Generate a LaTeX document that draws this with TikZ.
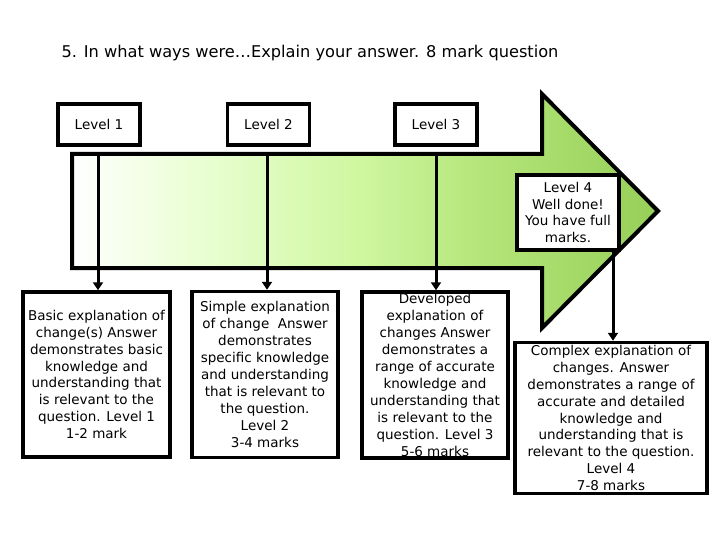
\documentclass[tikz,border=0pt]{standalone}
\usepackage{fontspec}
\setmainfont{DejaVu Sans}
\usetikzlibrary{arrows.meta}
\definecolor{sa}{HTML}{EBFFD6}
\definecolor{sb}{HTML}{CFF7A0}
\definecolor{sc}{HTML}{B3E478}
\definecolor{sd}{HTML}{96CF58}
\pgfdeclarehorizontalshading{arrowsh}{100bp}{color(0bp)=(white); color(25bp)=(white); color(35bp)=(sa); color(49.5bp)=(sb); color(60.5bp)=(sc); color(75bp)=(sd); color(100bp)=(sd)}
\begin{document}
\begin{tikzpicture}[x=1pt,y=-1pt,
  box/.style={draw=black, line width=3.5pt, fill=white, inner sep=0pt, align=center,
    font=\fontsize{13.5}{16.9}\selectfont},
  conn/.style={line width=3pt, -{Triangle[width=10pt,length=8pt]}}]
\useasboundingbox[fill=white] (0,0) rectangle (720,540);
\node[font=\fontsize{16.2}{19}\selectfont] (title) at (310,53) {5. In what ways were…Explain your answer. 8 mark question};
% big arrow
\shade[draw=black, line width=4pt, line join=miter, shading=arrowsh]
  (72,154) -- (542,154) -- (542,94) -- (658,211) -- (542,328) -- (542,268) -- (72,268) -- cycle;
% level labels
\node[box, minimum width=82pt, minimum height=41pt] (l1) at (99,124.5) {Level 1};
\node[box, minimum width=82pt, minimum height=41pt] (l2) at (268.5,124.5) {Level 2};
\node[box, minimum width=82pt, minimum height=41pt] (l3) at (436,124.5) {Level 3};
\node[box, minimum width=102pt, minimum height=75pt] (l4) at (568,212.5) {Level 4\\Well done!\\You have full\\marks.};
% description boxes
\node[box, minimum width=147pt, minimum height=165pt] (b1) at (96.5,374.5)
  {Basic explanation of\\change(s) Answer\\demonstrates basic\\knowledge and\\understanding that\\is relevant to the\\question. Level 1\\1-2 mark};
\node[box, minimum width=146pt, minimum height=166pt] (b2) at (265,374.5)
  {Simple explanation\\of change\ \ Answer\\demonstrates\\specific knowledge\\and understanding\\that is relevant to\\the question.\\Level 2\\3-4 marks};
\node[box, minimum width=146pt, minimum height=166pt] (b3) at (435,375)
  {Developed\\explanation of\\changes Answer\\demonstrates a\\range of accurate\\knowledge and\\understanding that\\is relevant to the\\question. Level 3\\5-6 marks};
\node[box, minimum width=192pt, minimum height=151pt] (b4) at (611,418)
  {Complex explanation of\\changes. Answer\\demonstrates a range of\\accurate and detailed\\knowledge and\\understanding that is\\relevant to the question.\\Level 4\\7-8 marks};
% connectors
\coordinate (c1) at (98,154);
\coordinate (c2) at (267,154);
\coordinate (c3) at (436,154);
\coordinate (c4) at (613,250);
\draw[conn] (c1) -- (c1 |- b1.north);
\draw[conn] (c2) -- (c2 |- b2.north);
\draw[conn] (c3) -- (c3 |- b3.north);
\draw[conn] (c4) -- (c4 |- b4.north);
\end{tikzpicture}
\end{document}
